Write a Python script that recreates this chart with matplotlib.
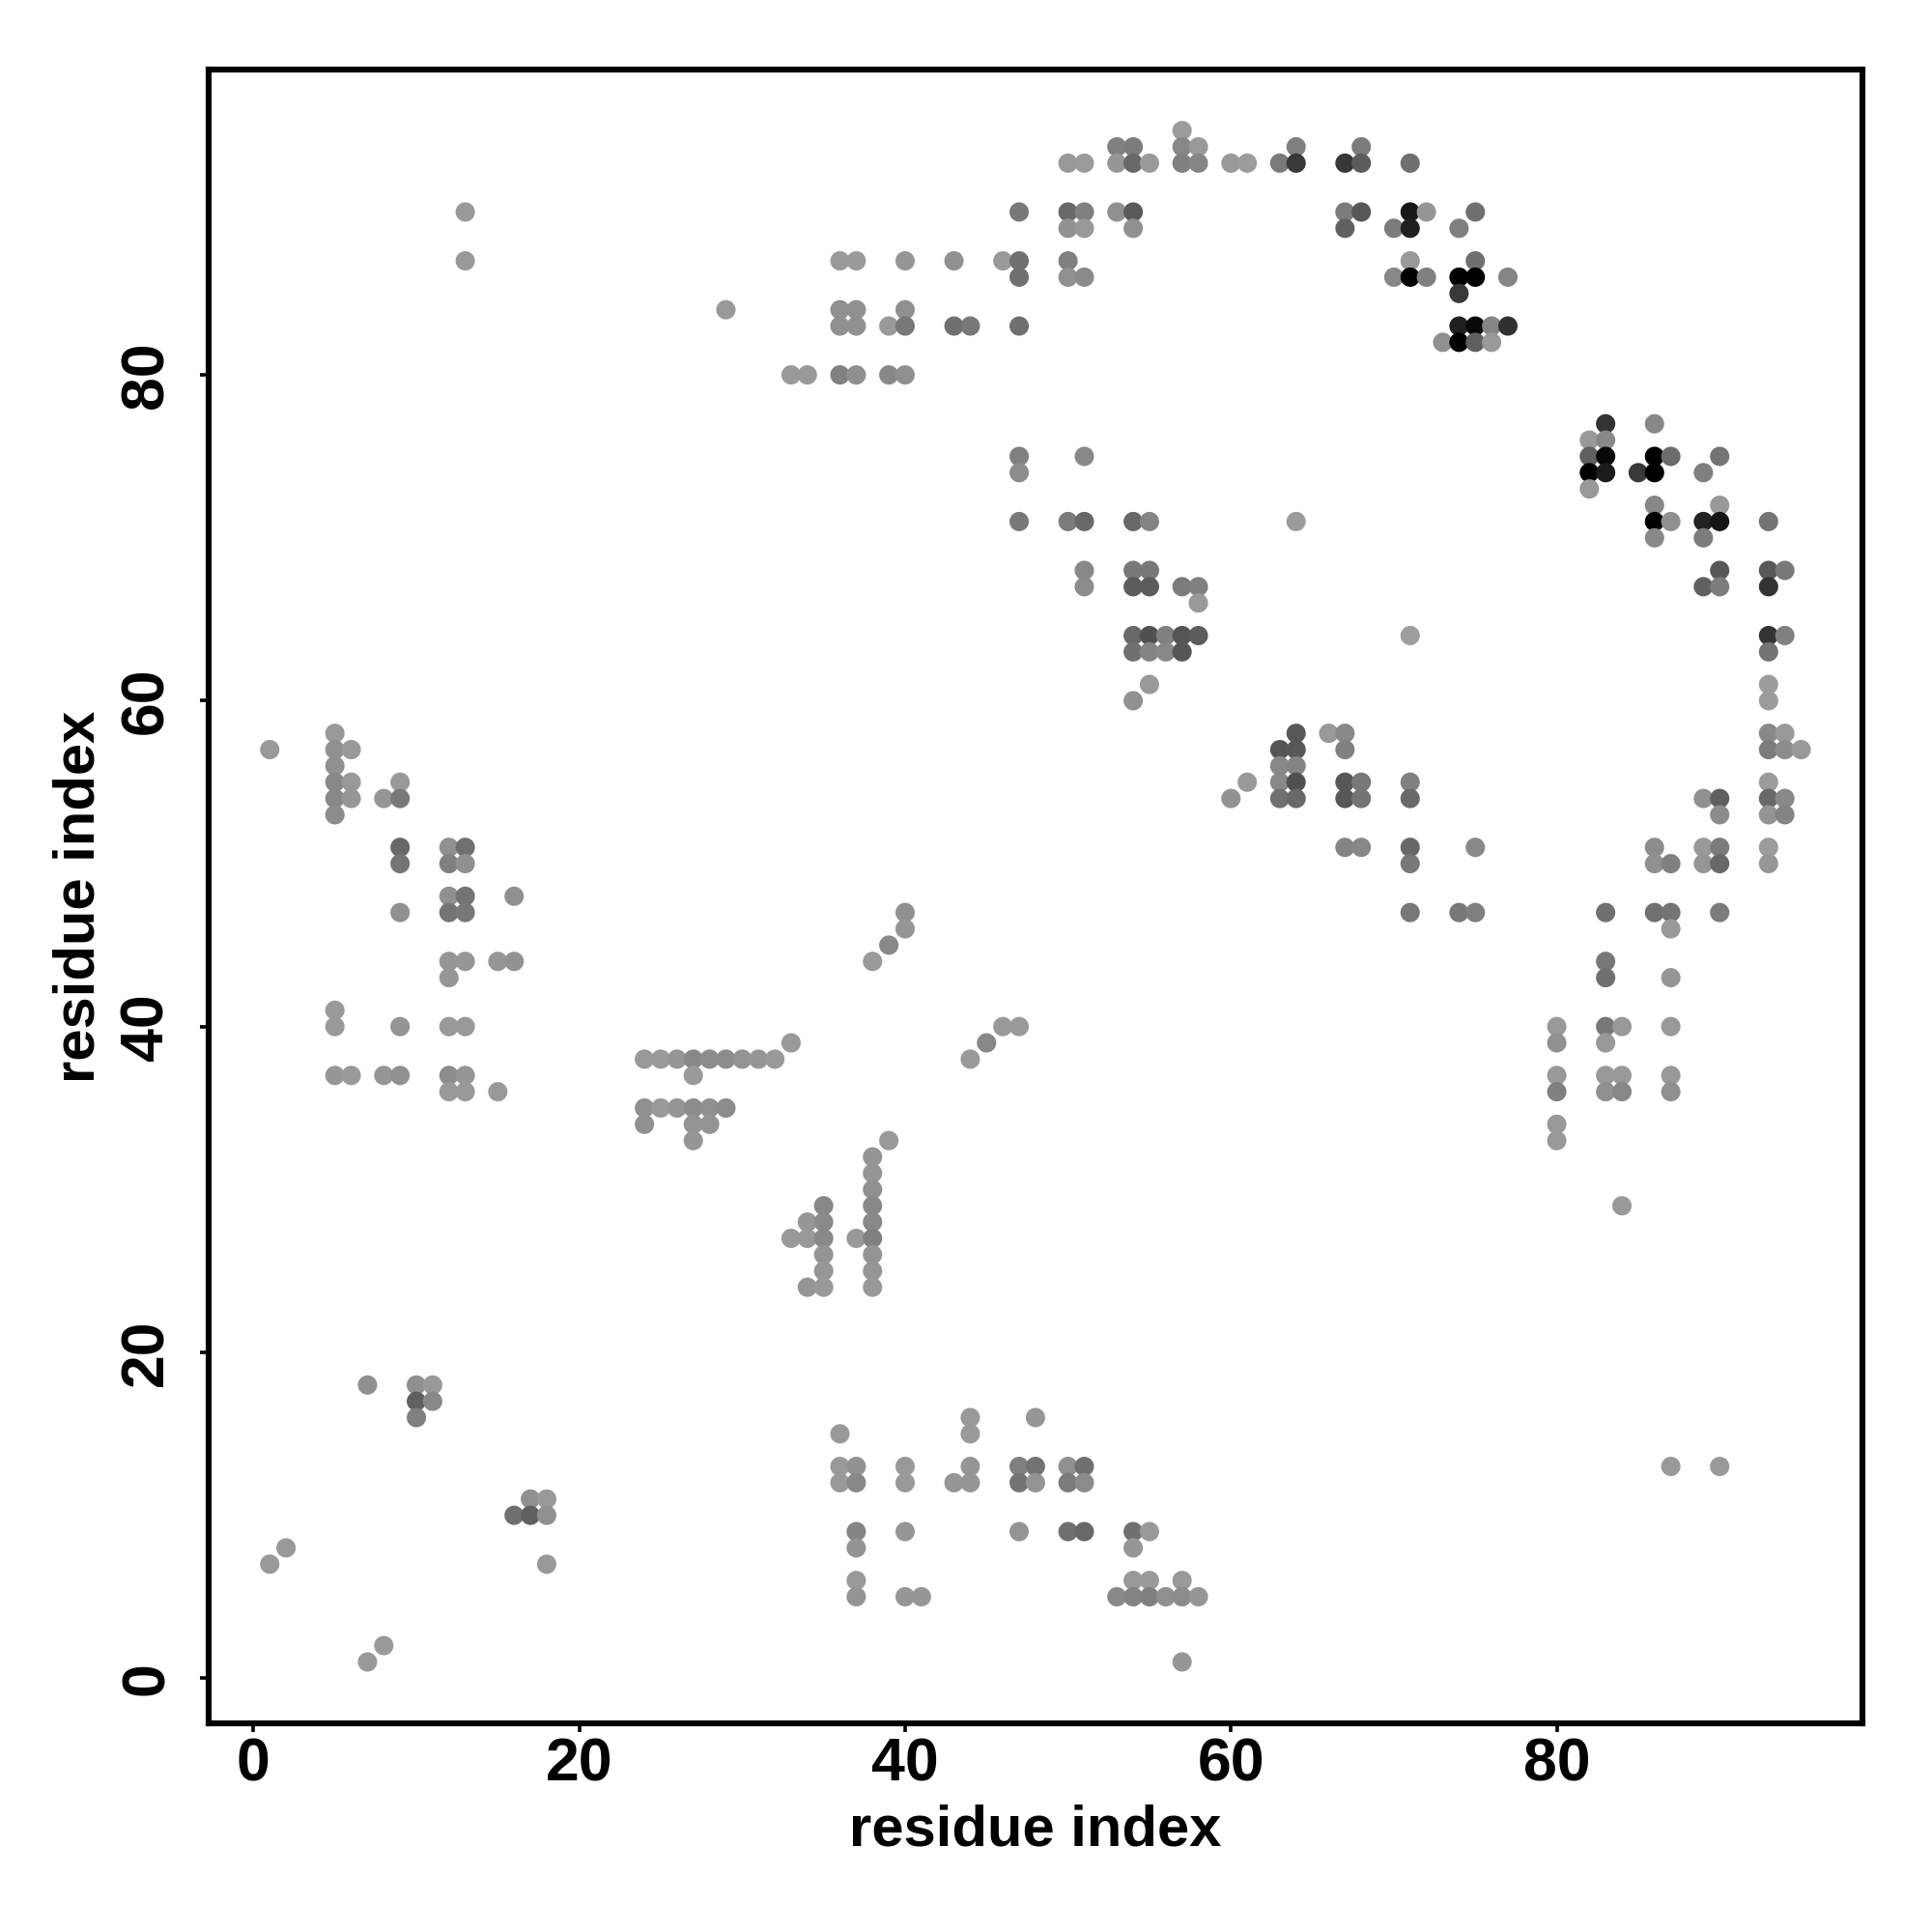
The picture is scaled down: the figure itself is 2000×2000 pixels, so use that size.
# residue contact map - each dot is a residue pair, darker dots are stronger contacts

import numpy as np
import matplotlib
matplotlib.use("Agg")
import matplotlib.pyplot as plt

plt.rcParams['font.family'] = ['Liberation Sans', 'DejaVu Sans']

# one line per row of the map, same order in all three lists
residue_x = [
    57,
    53, 54, 57, 58, 64, 68,
    50, 51, 53, 54, 55, 57, 58, 60, 61, 63, 64, 67, 68, 71,
    13, 47, 50, 51, 53, 54, 67, 68, 71, 72, 75,
    50, 51, 54, 67, 70, 71, 74,
    13, 36, 37, 40, 43, 46, 47, 50, 71, 75,
    47, 50, 51, 70, 71, 72, 74, 75, 77,
    74,
    29, 36, 37, 40,
    36, 37, 39, 40, 43, 44, 47, 74, 75, 76, 77,
    73, 74, 75, 76,
    33, 34, 36, 37, 39, 40,
    83, 86,
    82, 83,
    47, 51, 82, 83, 86, 87, 90,
    47, 82, 83, 85, 86, 89,
    82,
    86, 90,
    47, 50, 51, 54, 55, 64, 86, 87, 89, 90, 93,
    86, 89,
    51, 54, 55, 90, 93, 94,
    51, 54, 55, 57, 58, 89, 90, 93,
    58,
    54, 55, 56, 57, 58, 71, 93, 94,
    54, 55, 56, 57, 93,
    55, 93,
    54, 93,
    5, 64, 66, 67, 93, 94,
    1, 5, 6, 63, 64, 67, 93, 94, 95,
    5, 63, 64,
    5, 6, 9, 61, 63, 64, 67, 68, 71, 93,
    5, 6, 8, 9, 60, 63, 64, 67, 68, 71, 89, 90, 93, 94,
    5, 90, 93, 94,
    9, 12, 13, 67, 68, 71, 75, 86, 89, 90, 93,
    9, 12, 13, 71, 86, 87, 89, 90, 93,
    12, 13, 16,
    9, 12, 13, 40, 71, 74, 75, 83, 86, 87, 90,
    40, 87,
    39,
    12, 13, 15, 16, 38, 83,
    12, 83, 87,
    5,
    5, 9, 12, 13, 46, 47, 80, 83, 84, 87,
    33, 45, 80, 83,
    24, 25, 26, 27, 28, 29, 30, 31, 32, 44,
    5, 6, 8, 9, 12, 13, 27, 80, 83, 84, 87,
    12, 13, 15, 80, 83, 84, 87,
    24, 25, 26, 27, 28, 29,
    24, 27, 28, 80,
    27, 39, 80,
    38,
    38,
    38,
    35, 38, 84,
    34, 35, 38,
    33, 34, 35, 37, 38,
    35, 38,
    35, 38,
    34, 35, 38,
    7, 10, 11,
    10, 11,
    10, 44, 48,
    36, 44,
    36, 37, 40, 44, 47, 48, 50, 51, 87, 90,
    36, 37, 40, 43, 44, 47, 48, 50, 51,
    17, 18,
    16, 17, 18,
    37, 40, 47, 50, 51, 54, 55,
    2, 37, 54,
    1, 18,
    37, 54, 55, 57,
    37, 40, 41, 53, 54, 55, 56, 57, 58,
    8,
    7, 57,
]

residue_y = (
    [95] * 1 + [94] * 6 + [93] * 14 + [90] * 11 + [89] * 7 + [87] * 10 + [86] * 9
    + [85] * 1 + [84] * 4 + [83] * 11 + [82] * 4 + [80] * 6 + [77] * 2 + [76] * 2
    + [75] * 7 + [74] * 6 + [73] * 1 + [72] * 2 + [71] * 11 + [70] * 2 + [68] * 6
    + [67] * 8 + [66] * 1 + [64] * 8 + [63] * 5 + [61] * 2 + [60] * 2 + [58] * 6
    + [57] * 9 + [56] * 3 + [55] * 10 + [54] * 14 + [53] * 4 + [51] * 11 + [50] * 9
    + [48] * 3 + [47] * 11 + [46] * 2 + [45] * 1 + [44] * 6 + [43] * 3 + [41] * 1
    + [40] * 10 + [39] * 4 + [38] * 10 + [37] * 11 + [36] * 7 + [35] * 6 + [34] * 4
    + [33] * 3 + [32] * 1 + [31] * 1 + [30] * 1 + [29] * 3 + [28] * 3 + [27] * 5
    + [26] * 2 + [25] * 2 + [24] * 3 + [18] * 3 + [17] * 2 + [16] * 3 + [15] * 2
    + [13] * 10 + [12] * 9 + [11] * 2 + [10] * 3 + [9] * 7 + [8] * 3 + [7] * 2
    + [6] * 4 + [5] * 9 + [2] * 1 + [1] * 2
)

# grey level of each dot, 0 black to 255 white
grey_level = [
    0x9c,
    0x80, 0x7c, 0x88, 0x99, 0x80, 0x7c,
    0x99, 0x9b, 0x96, 0x68, 0x9a, 0x80, 0x85, 0x99, 0x9c, 0x7a, 0x38, 0x38, 0x5c, 0x70,
    0x99, 0x78, 0x68, 0x80, 0x90, 0x5a, 0x7c, 0x58, 0x18, 0x96, 0x70,
    0x92, 0x99, 0x90, 0x60, 0x7c, 0x20, 0x80,
    0x99, 0x9a, 0x9a, 0x96, 0x90, 0x99, 0x70, 0x80, 0x99, 0x70,
    0x70, 0x90, 0x8a, 0x88, 0x00, 0x80, 0x00, 0x00, 0x85,
    0x38,
    0x99, 0x90, 0x90, 0x90,
    0x90, 0x90, 0x99, 0x78, 0x70, 0x78, 0x70, 0x20, 0x08, 0x85, 0x30,
    0x90, 0x00, 0x60, 0x99,
    0x99, 0x99, 0x80, 0x90, 0x88, 0x90,
    0x33, 0x88,
    0x99, 0x88,
    0x80, 0x88, 0x60, 0x08, 0x00, 0x6c, 0x74,
    0x8c, 0x00, 0x1c, 0x38, 0x00, 0x80,
    0x99,
    0x88, 0x99,
    0x78, 0x7c, 0x68, 0x68, 0x84, 0x9c, 0x00, 0x90, 0x22, 0x15, 0x74,
    0x88, 0x7c,
    0x88, 0x78, 0x78, 0x58, 0x58, 0x78,
    0x8c, 0x5c, 0x5c, 0x7c, 0x80, 0x60, 0x7c, 0x33,
    0x99,
    0x68, 0x50, 0x80, 0x55, 0x5c, 0x9e, 0x33, 0x80,
    0x70, 0x84, 0x88, 0x55, 0x74,
    0x99, 0x9c,
    0x92, 0x9c,
    0x99, 0x58, 0x99, 0x88, 0x88, 0x99,
    0x99, 0x90, 0x99, 0x55, 0x58, 0x80, 0x7c, 0x8c, 0x99,
    0x90, 0x88, 0x84,
    0x88, 0x99, 0x99, 0x99, 0x88, 0x50, 0x58, 0x78, 0x80, 0x9c,
    0x88, 0x96, 0x96, 0x78, 0x92, 0x70, 0x68, 0x58, 0x74, 0x68, 0x90, 0x60, 0x68, 0x88,
    0x8c, 0x8c, 0x94, 0x84,
    0x68, 0x90, 0x70, 0x84, 0x88, 0x68, 0x88, 0x8c, 0x99, 0x7c, 0x9c,
    0x74, 0x80, 0x90, 0x78, 0x90, 0x80, 0x96, 0x68, 0x96,
    0x90, 0x74, 0x90,
    0x90, 0x74, 0x78, 0x90, 0x78, 0x78, 0x80, 0x70, 0x70, 0x74, 0x7c,
    0x96, 0x99,
    0x88,
    0x96, 0x96, 0x96, 0x92, 0x99, 0x78,
    0x96, 0x70, 0x96,
    0x99,
    0x99, 0x94, 0x99, 0x99, 0x99, 0x99, 0x99, 0x78, 0x99, 0x99,
    0x99, 0x88, 0x90, 0x99,
    0x99, 0x9a, 0x96, 0x88, 0x8c, 0x8c, 0x94, 0x96, 0x99, 0x99,
    0x96, 0x9a, 0x96, 0x90, 0x8c, 0x96, 0x9a, 0x99, 0x99, 0x99, 0x99,
    0x99, 0x99, 0x99, 0x80, 0x90, 0x88, 0x90,
    0x90, 0x9a, 0x96, 0x8c, 0x90, 0x8c,
    0x90, 0x94, 0x94, 0x99,
    0x96, 0x99, 0x99,
    0x94,
    0x96,
    0x90,
    0x88, 0x88, 0x99,
    0x96, 0x8a, 0x88,
    0x99, 0x99, 0x88, 0x99, 0x80,
    0x94, 0x94,
    0x96, 0x96,
    0x94, 0x99, 0x99,
    0x90, 0x90, 0x99,
    0x60, 0x88,
    0x80, 0x99, 0x96,
    0x99, 0x99,
    0x99, 0x92, 0x99, 0x96, 0x80, 0x74, 0x90, 0x70, 0x99, 0x99,
    0x99, 0x88, 0x99, 0x96, 0x96, 0x74, 0x94, 0x7c, 0x8c,
    0x90, 0x99,
    0x70, 0x60, 0x90,
    0x84, 0x96, 0x94, 0x70, 0x68, 0x70, 0x99,
    0x99, 0x94, 0x96,
    0x99, 0x99,
    0x99, 0x99, 0x99, 0x99,
    0x94, 0x96, 0x96, 0x88, 0x84, 0x80, 0x90, 0x8c, 0x96,
    0x99,
    0x99, 0x96,
]

tick_vals = [0, 20, 40, 60, 80]

fig = plt.figure(figsize=(10, 10), dpi=200)
ax = fig.add_axes([0.108, 0.108, 0.8558, 0.8558])

ax.scatter(residue_x, residue_y, c=np.array(grey_level), cmap="gray", vmin=0, vmax=255,
           s=52, linewidths=0)

ax.set_xlim(-2.75, 98.74)
ax.set_ylim(-2.77, 98.72)
ax.set_xticks(tick_vals)
ax.set_yticks(tick_vals)
ax.tick_params(axis="x", length=3.4, width=1.3, pad=1.5, labelsize=22.5)
ax.tick_params(axis="y", length=3.4, width=1.3, pad=9, labelsize=22.5)
plt.setp(ax.get_xticklabels(), fontweight="bold")
plt.setp(ax.get_yticklabels(), fontweight="bold", rotation=90, va="center")

for side in ax.spines.values():
    side.set_linewidth(2.2)

ax.set_xlabel("residue index", fontsize=21.5, fontweight="bold")
ax.set_ylabel("residue index", fontsize=21.5, fontweight="bold")
ax.xaxis.set_label_coords(0.5, -0.0485)
ax.yaxis.set_label_coords(-0.062, 0.5)

fig.savefig("out.png", dpi=200)
